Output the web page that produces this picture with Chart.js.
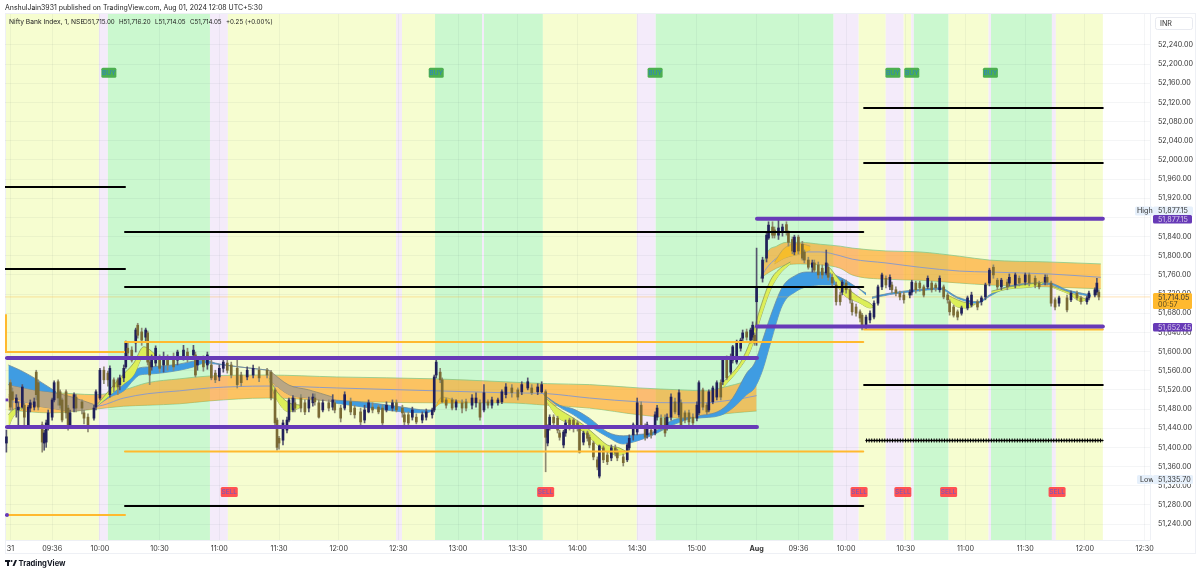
<!DOCTYPE html>
<html>
<head>
<meta charset="utf-8">
<style>
  html, body { margin: 0; padding: 0; background: #fff; }
  canvas { display: block; }
</style>
<script src="https://cdn.jsdelivr.net/npm/chart.js@4/dist/chart.umd.min.js"></script>
</head>
<body>
<canvas id="chart" width="1200" height="573"></canvas>
<script>
// every x below is minutes since 09:15 on Jul 31, with the closed market hours left out
const xTickMinutes = [0, 21, 45, 75, 105, 135, 165, 195, 225, 255, 285, 315, 345, 375, 396, 420, 450, 480, 510, 540, 570]
const xTickLabels = ['31', '09:36', '10:00', '10:30', '11:00', '11:30', '12:00', '12:30', '13:00', '13:30', '14:00', '14:30', '15:00', 'Aug', '09:36', '10:00', '10:30', '11:00', '11:30', '12:00', '12:30']
const yTickValues = [51240, 51280, 51320, 51360, 51400, 51440, 51480, 51520, 51560, 51600, 51640, 51680, 51720, 51760, 51800, 51840, 51880, 51920, 51960, 52000, 52040, 52080, 52120, 52160, 52200, 52240]

const candleMinute = [
  -2, 0, 1, 3, 4, 6, 7, 9, 10, 12,
  13, 14, 16, 17, 18, 19, 21, 22, 24, 25,
  26, 28, 29, 30, 32, 33, 36, 37, 39, 42,
  43, 45, 47, 49, 50, 52, 54, 55, 57, 58,
  59, 61, 63, 64, 66, 68, 69, 70, 71, 73,
  75, 77, 79, 82, 84, 87, 89, 92, 93, 94,
  97, 99, 101, 103, 105, 107, 109, 111, 114, 116,
  119, 122, 125, 129, 131, 133, 134, 135, 137, 139,
  140, 142, 143, 146, 148, 150, 152, 153, 155, 157,
  160, 162, 163, 166, 168, 171, 173, 176, 178, 180,
  182, 185, 187, 189, 192, 194, 197, 198, 200, 202,
  204, 207, 209, 212, 213, 214, 216, 217, 219, 222,
  224, 227, 229, 232, 234, 236, 238, 240, 242, 245,
  247, 249, 252, 255, 257, 260, 262, 265, 267, 269,
  270, 271, 273, 275, 276, 278, 279, 281, 283, 285,
  286, 288, 290, 291, 293, 295, 296, 298, 300, 302,
  304, 305, 308, 310, 311, 313, 315, 317, 319, 320,
  322, 324, 325, 327, 329, 330, 332, 334, 336, 337,
  339, 341, 343, 345, 346, 348, 350, 351, 353, 355,
  357, 358, 360, 362, 363, 365, 367, 368, 370, 372,
  373, 374, 375, 378, 380, 381, 383, 384, 386, 388,
  390, 391, 393, 394, 396, 398, 399, 401, 403, 404,
  406, 408, 410, 411, 413, 415, 417, 418, 420, 422,
  423, 425, 427, 428, 430, 432, 434, 436, 438, 440,
  442, 443, 445, 447, 449, 452, 453, 455, 457, 459,
  461, 463, 465, 467, 469, 471, 472, 474, 476, 478,
  481, 483, 486, 488, 490, 492, 494, 496, 498, 501,
  502, 505, 507, 510, 512, 515, 517, 520, 521, 523,
  525, 527, 531, 533, 536, 538, 541, 542, 545, 546, 547
]
const candleOpen = [
  51409, 51535, 51516, 51493, 51478, 51484, 51488, 51447, 51482, 51484,
  51557, 51535, 51447, 51409, 51411, 51442, 51463, 51499, 51537, 51516,
  51499, 51516, 51482, 51442, 51482, 51505, 51495, 51472, 51463, 51461,
  51484, 51503, 51561, 51555, 51510, 51541, 51541, 51531, 51545, 51568,
  51607, 51603, 51618, 51655, 51641, 51630, 51639, 51578, 51568, 51576,
  51589, 51572, 51587, 51589, 51582, 51589, 51599, 51593, 51593, 51572,
  51582, 51572, 51572, 51555, 51547, 51565, 51576, 51572, 51565, 51551,
  51547, 51551, 51561, 51561, 51557, 51520, 51457, 51419, 51415, 51436,
  51457, 51478, 51493, 51503, 51493, 51482, 51493, 51503, 51493, 51478,
  51493, 51484, 51493, 51482, 51482, 51495, 51482, 51474, 51457, 51474,
  51484, 51484, 51482, 51478, 51482, 51493, 51482, 51468, 51468, 51463,
  51463, 51457, 51463, 51468, 51478, 51551, 51557, 51541, 51499, 51499,
  51484, 51493, 51495, 51488, 51493, 51493, 51478, 51495, 51488, 51493,
  51495, 51510, 51524, 51520, 51516, 51524, 51524, 51516, 51516, 51516,
  51409, 51442, 51463, 51461, 51430, 51405, 51430, 51457, 51457, 51451,
  51440, 51411, 51430, 51421, 51409, 51374, 51340, 51399, 51384, 51378,
  51399, 51390, 51380, 51374, 51399, 51426, 51432, 51488, 51442, 51426,
  51436, 51430, 51463, 51461, 51461, 51442, 51463, 51495, 51468, 51493,
  51472, 51472, 51463, 51461, 51472, 51520, 51488, 51478, 51495, 51505,
  51535, 51537, 51587, 51557, 51582, 51578, 51607, 51628, 51641, 51624,
  51630, 51634, 51704, 51753, 51795, 51837, 51860, 51854, 51843, 51849,
  51865, 51847, 51834, 51808, 51839, 51824, 51808, 51791, 51776, 51785,
  51781, 51774, 51764, 51776, 51755, 51739, 51718, 51724, 51743, 51729,
  51701, 51693, 51683, 51676, 51651, 51666, 51672, 51701, 51735, 51753,
  51735, 51739, 51729, 51722, 51718, 51718, 51724, 51743, 51743, 51735,
  51735, 51743, 51739, 51729, 51735, 51718, 51704, 51693, 51683, 51680,
  51691, 51697, 51704, 51704, 51714, 51743, 51776, 51749, 51735, 51745,
  51743, 51739, 51753, 51745, 51760, 51753, 51743, 51745, 51755, 51743,
  51708, 51701, 51712, 51708, 51722, 51712, 51704, 51712, 51718, 51724, 51724
]
const candleClose = [
  51422, 51484, 51499, 51503, 51484, 51526, 51463, 51484, 51493, 51495,
  51510, 51484, 51411, 51430, 51451, 51472, 51499, 51535, 51503, 51488,
  51457, 51472, 51442, 51472, 51510, 51482, 51482, 51461, 51442, 51482,
  51516, 51561, 51541, 51541, 51565, 51526, 51526, 51545, 51565, 51618,
  51597, 51582, 51645, 51634, 51624, 51645, 51578, 51551, 51589, 51607,
  51565, 51589, 51572, 51568, 51599, 51603, 51589, 51603, 51551, 51582,
  51568, 51593, 51545, 51541, 51565, 51578, 51561, 51551, 51531, 51535,
  51561, 51565, 51545, 51551, 51503, 51451, 51400, 51409, 51451, 51457,
  51499, 51503, 51482, 51482, 51474, 51499, 51505, 51495, 51463, 51493,
  51482, 51499, 51478, 51461, 51510, 51474, 51468, 51453, 51478, 51493,
  51478, 51474, 51451, 51488, 51493, 51478, 51472, 51453, 51451, 51478,
  51453, 51468, 51474, 51478, 51547, 51578, 51541, 51495, 51488, 51482,
  51495, 51482, 51482, 51503, 51503, 51463, 51514, 51488, 51499, 51499,
  51516, 51526, 51514, 51505, 51531, 51537, 51514, 51526, 51531, 51421,
  51442, 51463, 51451, 51436, 51421, 51432, 51451, 51442, 51440, 51440,
  51390, 51430, 51419, 51405, 51380, 51359, 51403, 51374, 51370, 51399,
  51388, 51378, 51368, 51405, 51419, 51447, 51493, 51447, 51421, 51447,
  51426, 51468, 51482, 51442, 51430, 51463, 51505, 51474, 51514, 51447,
  51457, 51453, 51451, 51488, 51535, 51484, 51474, 51516, 51524, 51535,
  51505, 51582, 51545, 51589, 51610, 51620, 51624, 51639, 51630, 51645,
  51655, 51618, 51735, 51791, 51843, 51864, 51843, 51843, 51858, 51860,
  51850, 51828, 51810, 51839, 51810, 51795, 51791, 51776, 51785, 51770,
  51760, 51760, 51785, 51755, 51743, 51704, 51704, 51745, 51729, 51708,
  51683, 51680, 51670, 51651, 51672, 51680, 51701, 51735, 51760, 51739,
  51755, 51729, 51722, 51714, 51708, 51724, 51745, 51729, 51733, 51718,
  51753, 51729, 51733, 51753, 51714, 51708, 51683, 51676, 51672, 51691,
  51712, 51718, 51693, 51712, 51739, 51770, 51760, 51735, 51749, 51735,
  51755, 51760, 51743, 51760, 51743, 51739, 51735, 51755, 51745, 51701,
  51693, 51712, 51687, 51722, 51712, 51704, 51712, 51722, 51729, 51743, 51714
]
const candleHigh = [
  51436, 51541, 51524, 51510, 51495, 51531, 51493, 51488, 51499, 51503,
  51561, 51541, 51453, 51436, 51457, 51478, 51503, 51539, 51541, 51520,
  51503, 51520, 51488, 51478, 51514, 51510, 51499, 51478, 51470, 51488,
  51520, 51565, 51568, 51559, 51570, 51545, 51545, 51551, 51572, 51622,
  51620, 51610, 51649, 51659, 51649, 51649, 51643, 51582, 51593, 51612,
  51593, 51599, 51593, 51597, 51603, 51613, 51607, 51613, 51599, 51589,
  51591, 51599, 51582, 51561, 51572, 51587, 51582, 51578, 51589, 51557,
  51568, 51572, 51568, 51565, 51561, 51524, 51461, 51423, 51457, 51463,
  51503, 51508, 51503, 51510, 51499, 51505, 51512, 51512, 51499, 51499,
  51499, 51510, 51499, 51488, 51516, 51503, 51488, 51482, 51488, 51499,
  51493, 51488, 51488, 51495, 51499, 51499, 51488, 51474, 51474, 51484,
  51470, 51474, 51480, 51482, 51551, 51582, 51565, 51545, 51503, 51503,
  51499, 51499, 51501, 51510, 51514, 51499, 51531, 51499, 51505, 51503,
  51520, 51533, 51531, 51524, 51537, 51545, 51531, 51533, 51537, 51520,
  51447, 51468, 51468, 51465, 51436, 51436, 51457, 51461, 51461, 51455,
  51445, 51434, 51434, 51426, 51413, 51380, 51405, 51403, 51390, 51405,
  51405, 51396, 51386, 51409, 51426, 51451, 51503, 51495, 51449, 51453,
  51442, 51474, 51488, 51468, 51468, 51470, 51512, 51503, 51520, 51499,
  51476, 51478, 51470, 51495, 51539, 51524, 51493, 51520, 51528, 51539,
  51541, 51587, 51591, 51595, 51613, 51624, 51628, 51645, 51647, 51649,
  51662, 51639, 51816, 51797, 51847, 51871, 51871, 51860, 51877, 51866,
  51871, 51852, 51839, 51843, 51843, 51830, 51812, 51797, 51791, 51791,
  51787, 51781, 51812, 51783, 51762, 51745, 51724, 51749, 51749, 51735,
  51708, 51699, 51687, 51680, 51676, 51685, 51706, 51739, 51764, 51758,
  51760, 51745, 51735, 51726, 51724, 51729, 51749, 51747, 51747, 51739,
  51758, 51747, 51743, 51758, 51739, 51722, 51708, 51697, 51687, 51695,
  51716, 51724, 51708, 51716, 51743, 51774, 51781, 51753, 51753, 51751,
  51762, 51764, 51758, 51764, 51764, 51758, 51747, 51760, 51760, 51747,
  51712, 51716, 51718, 51726, 51726, 51716, 51716, 51726, 51733, 51753, 51729
]
const candleLow = [
  51390, 51478, 51478, 51463, 51440, 51482, 51442, 51445, 51474, 51478,
  51499, 51478, 51390, 51394, 51400, 51436, 51457, 51495, 51488, 51482,
  51453, 51461, 51436, 51440, 51474, 51474, 51470, 51449, 51432, 51457,
  51478, 51499, 51533, 51528, 51505, 51516, 51510, 51520, 51537, 51565,
  51591, 51578, 51599, 51628, 51613, 51620, 51572, 51531, 51561, 51570,
  51557, 51557, 51561, 51561, 51572, 51582, 51578, 51587, 51547, 51561,
  51559, 51563, 51541, 51535, 51539, 51557, 51555, 51545, 51524, 51528,
  51541, 51545, 51537, 51545, 51499, 51447, 51394, 51396, 51405, 51430,
  51453, 51474, 51474, 51474, 51468, 51474, 51486, 51488, 51461, 51474,
  51476, 51478, 51472, 51453, 51478, 51468, 51461, 51445, 51451, 51472,
  51472, 51470, 51447, 51474, 51476, 51474, 51463, 51447, 51440, 51457,
  51449, 51451, 51457, 51461, 51474, 51545, 51535, 51493, 51482, 51478,
  51478, 51472, 51476, 51480, 51484, 51457, 51474, 51482, 51482, 51488,
  51491, 51503, 51505, 51499, 51510, 51520, 51510, 51510, 51514, 51349,
  51403, 51436, 51442, 51430, 51415, 51399, 51423, 51436, 51432, 51434,
  51388, 51405, 51413, 51399, 51374, 51353, 51336, 51368, 51364, 51372,
  51382, 51372, 51361, 51370, 51394, 51415, 51426, 51440, 51415, 51419,
  51419, 51426, 51457, 51436, 51423, 51436, 51457, 51470, 51463, 51440,
  51451, 51447, 51445, 51455, 51468, 51478, 51468, 51474, 51491, 51499,
  51499, 51531, 51541, 51553, 51576, 51574, 51601, 51620, 51624, 51618,
  51624, 51613, 51613, 51745, 51787, 51834, 51837, 51837, 51834, 51841,
  51843, 51820, 51804, 51802, 51804, 51791, 51785, 51772, 51766, 51766,
  51753, 51753, 51760, 51749, 51737, 51697, 51697, 51718, 51722, 51701,
  51676, 51674, 51662, 51645, 51647, 51660, 51668, 51697, 51729, 51733,
  51729, 51722, 51716, 51708, 51701, 51712, 51718, 51722, 51726, 51714,
  51731, 51724, 51726, 51724, 51710, 51701, 51676, 51672, 51666, 51676,
  51687, 51693, 51687, 51697, 51708, 51737, 51753, 51729, 51729, 51729,
  51737, 51733, 51737, 51739, 51737, 51733, 51731, 51739, 51739, 51695,
  51687, 51695, 51683, 51704, 51708, 51699, 51699, 51708, 51714, 51718, 51708
]

// slow ribbon, one run per session
const slowMinute1 = [-1, 20, 43, 57, 69, 85, 100, 129, 164, 214, 248, 270, 291, 316, 337, 349, 359, 369, 375]
const slowTop1 = [51510, 51514, 51510, 51520, 51535, 51543, 51549, 51551, 51547, 51543, 51537, 51533, 51531, 51524, 51520, 51518, 51526, 51537, 51545]
const slowMid1 = [51495, 51493, 51486, 51503, 51512, 51518, 51524, 51528, 51524, 51518, 51514, 51512, 51503, 51495, 51493, 51493, 51497, 51503, 51508]
const slowBottom1 = [51478, 51472, 51480, 51486, 51488, 51491, 51497, 51503, 51497, 51493, 51493, 51488, 51482, 51468, 51461, 51463, 51470, 51474, 51476]
const slowMinute2 = [377, 380, 385, 390, 397, 407, 417, 423, 440, 457, 477, 492, 522, 548]
const slowTop2 = [51753, 51804, 51820, 51828, 51828, 51824, 51820, 51816, 51810, 51808, 51799, 51791, 51787, 51783]
const slowMid2 = [51753, 51774, 51795, 51808, 51808, 51808, 51800, 51793, 51785, 51776, 51768, 51766, 51762, 51755]
const slowBottom2 = [51753, 51762, 51774, 51781, 51783, 51781, 51774, 51760, 51751, 51749, 51743, 51739, 51735, 51731]

// fast ribbons, each run: minutes, upper edge, lower edge
const blueRuns = [
  [[-1, 5, 12, 20, 23], [51572, 51561, 51545, 51524, 51516], [51531, 51526, 51520, 51516, 51514]],
  [[44, 50, 57, 62, 65, 70, 85, 92, 98, 103, 115, 130], [51491, 51511, 51531, 51558, 51566, 51568, 51574, 51580, 51582, 51576, 51568, 51561], [51488, 51505, 51518, 51541, 51551, 51553, 51561, 51568, 51576, 51574, 51568, 51561]],
  [[162, 181, 197, 209, 213], [51499, 51493, 51484, 51478, 51478], [51493, 51482, 51474, 51472, 51478]],
  [[268, 276, 283, 291, 300, 308, 313, 323, 333, 342], [51510, 51488, 51480, 51461, 51432, 51424, 51426, 51432, 51457, 51463], [51510, 51484, 51468, 51445, 51422, 51407, 51411, 51426, 51447, 51461]],
  [[345, 357, 363, 370, 374, 378, 382, 388, 395, 400, 408, 417, 425, 430], [51465, 51478, 51503, 51555, 51576, 51624, 51674, 51735, 51760, 51766, 51766, 51755, 51735, 51722], [51461, 51467, 51482, 51510, 51524, 51561, 51618, 51697, 51726, 51735, 51739, 51739, 51735, 51718]],
  [[433, 442, 455, 467, 476, 486, 492, 499, 516, 522, 531, 543], [51714, 51722, 51729, 51733, 51714, 51704, 51718, 51733, 51743, 51743, 51729, 51718], [51711, 51719, 51726, 51730, 51711, 51701, 51715, 51730, 51740, 51740, 51726, 51715]]
]
const taupeRuns = [
  [[-1, 5, 12, 20, 31, 43], [51531, 51526, 51520, 51516, 51505, 51488], [51505, 51499, 51488, 51482, 51476, 51482]],
  [[130, 140, 150, 162], [51561, 51530, 51520, 51505], [51541, 51510, 51503, 51495]]
]
const yellowRuns = [
  [[-1, 1, 5, 7], [51468, 51478, 51482, 51482], [51441, 51461, 51478, 51482]],
  [[44, 55, 62, 67, 72, 74], [51491, 51545, 51576, 51610, 51597, 51589], [51488, 51526, 51551, 51589, 51589, 51589]],
  [[130, 134, 140, 146], [51545, 51516, 51493, 51488], [51541, 51499, 51474, 51484]],
  [[269, 275, 283, 288, 295, 300, 306, 310], [51503, 51482, 51461, 51447, 51422, 51405, 51399, 51390], [51499, 51463, 51447, 51432, 51405, 51390, 51384, 51388]],
  [[358, 367, 372, 377, 382, 387, 392], [51535, 51578, 51624, 51693, 51749, 51774, 51787], [51524, 51568, 51603, 51670, 51729, 51764, 51783]],
  [[412, 418, 427, 432, 434], [51774, 51743, 51712, 51701, 51693], [51766, 51722, 51701, 51691, 51693]],
  [[471, 476, 481, 485], [51718, 51708, 51701, 51699], [51712, 51693, 51691, 51699]],
  [[493, 502, 516, 519], [51726, 51735, 51743, 51745], [51722, 51731, 51737, 51743]],
  [[523, 532, 538, 541], [51737, 51724, 51714, 51708], [51735, 51720, 51705, 51708]]
]
const goldRuns = [
  [[213, 217, 223, 228], [51482, 51505, 51499, 51495], [51482, 51493, 51493, 51493]],
  [[384, 389, 397, 402], [51787, 51816, 51825, 51820], [51783, 51795, 51804, 51812]]
]

// levels: start minute, end minute, price
const blackLevels = [
  [-2.7, 57.6, 51943.5], [-2.7, 57.6, 51772.4],
  [57.6, 428.6, 51849.6], [57.6, 428.6, 51734.8], [57.6, 428.6, 51277.6],
  [429, 549, 52108.5], [429, 549, 51993.7], [429, 549, 51530.2]
]
const dottedLevel = [430, 549, 51414.3]
const purpleLevels = [
  [-1.7, 375.2, 51586.6], [-1.7, 375.2, 51442.5],
  [375.2, 549, 51877.15], [375.2, 549, 51652.45]
]
const orangeLevels = [
  [57.6, 428.6, 51620], [57.6, 428.6, 51391.4],
  [-1.7, 57.6, 51259], [429, 549, 51646]
]
const orangeStepMinute = [-2.2, -2.2, 57.6]
const orangeStepPrice = [51678, 51599, 51599]

const buyMinutes = [49.5, 214, 324, 443.5, 453, 492.5]
const buyPrice = 52182
const sellMinutes = [110, 269, 426.5, 448.5, 471.5, 526]
const sellPrice = 51307

const lastPrice = 51714.05

// session colouring, edges in minutes
const bandEdges = [-2.7, 44.5, 49, 100.3, 109.3, 193.8, 196.8, 213.4, 237, 238, 267.6, 314.8, 324.3, 413.7, 426.3, 439.9, 448.9, 452.7, 454, 471.5, 491.6, 492.8, 523.4, 525.4, 549]
const bandKinds = ['y', 'l', 'g', 'l', 'y', 'l', 'y', 'g', 'l', 'g', 'y', 'l', 'g', 'l', 'y', 'l', 'y', 'l', 'g', 'y', 'l', 'g', 'l', 'y']
const bandColors = { y: '#f6fdd0', g: '#cbf8cf', l: '#f4ebfa' }

const FONT = 'Inter, "Liberation Sans", sans-serif'
const X_MIN = -2.7
const X_MAX = 572.7

const points = (xs, ys) => xs.map((x, i) => ({ x, y: ys[i] }))

function ribbon(xs, upper, lower, fillColor, edgeColor, order) {
  const common = {
    type: 'line',
    pointRadius: 0,
    borderWidth: 0.8,
    borderColor: edgeColor,
    cubicInterpolationMode: 'monotone',
    order
  }
  return [
    { ...common, data: points(xs, upper), fill: '+1', backgroundColor: fillColor },
    { ...common, data: points(xs, lower), fill: false }
  ]
}

function levelLine(level, color, width, order) {
  return {
    type: 'line',
    data: [{ x: level[0], y: level[2] }, { x: level[1], y: level[2] }],
    borderColor: color,
    borderWidth: width,
    borderCapStyle: 'round',
    pointRadius: 0,
    fill: false,
    order
  }
}

const datasets = [
  ...ribbon(slowMinute1, slowTop1, slowBottom1, 'rgba(255, 160, 30, 0.62)', '#86c98a', 90),
  ...ribbon(slowMinute2, slowTop2, slowBottom2, 'rgba(255, 160, 30, 0.62)', '#86c98a', 90),
  { type: 'line', data: points(slowMinute1, slowMid1), borderColor: '#8f9cc4', borderWidth: 1, pointRadius: 0, fill: false, cubicInterpolationMode: 'monotone', order: 85 },
  { type: 'line', data: points(slowMinute2, slowMid2), borderColor: '#8f9cc4', borderWidth: 1, pointRadius: 0, fill: false, cubicInterpolationMode: 'monotone', order: 85 },
  ...taupeRuns.flatMap(r => ribbon(r[0], r[1], r[2], '#b9a684', '#8d8a72', 80)),
  ...blueRuns.flatMap(r => ribbon(r[0], r[1], r[2], '#3f9ce2', '#6f8c9c', 78)),
  ...yellowRuns.flatMap(r => ribbon(r[0], r[1], r[2], '#dcef58', '#8d9a58', 76)),
  ...goldRuns.flatMap(r => ribbon(r[0], r[1], r[2], '#f6bd2c', '#b8a35a', 74)),
  {
    type: 'line',
    data: [{ x: X_MIN, y: lastPrice }, { x: X_MAX, y: lastPrice }],
    borderColor: 'rgba(255, 176, 46, 0.35)',
    borderWidth: 1,
    pointRadius: 0,
    fill: false,
    order: 70
  },
  {
    type: 'bar',
    data: candleMinute.map((x, i) => ({ x, y: [candleLow[i], candleHigh[i]] })),
    backgroundColor: candleOpen.map((o, i) => (candleClose[i] >= o ? '#55556e' : '#8d8a72')),
    barThickness: 1,
    grouped: false,
    order: 20
  },
  {
    type: 'bar',
    data: candleMinute.map((x, i) => ({ x, y: [candleOpen[i], candleClose[i]] })),
    backgroundColor: candleOpen.map((o, i) => (candleClose[i] >= o ? '#20205a' : '#7a6a34')),
    barThickness: 2,
    grouped: false,
    order: 10
  },
  ...orangeLevels.map(l => levelLine(l, '#ffb92e', 2, 6)),
  {
    type: 'line',
    data: points(orangeStepMinute, orangeStepPrice),
    borderColor: '#ffb92e',
    borderWidth: 2,
    pointRadius: 0,
    fill: false,
    order: 6
  },
  ...purpleLevels.map(l => levelLine(l, '#673ab7', 4, 4)),
  ...blackLevels.map(l => levelLine(l, '#000000', 2, 3)),
  levelLine(dottedLevel, '#000000', 1.6, 3),
  { ...levelLine(dottedLevel, '#000000', 4, 3), borderDash: [1, 1.6], borderCapStyle: 'butt' },
  {
    type: 'line',
    data: [{ x: -1.7, y: 51499 }],
    pointStyle: 'rect',
    pointRadius: 2,
    pointBackgroundColor: '#673ab7',
    pointBorderWidth: 0,
    order: 3
  },
  {
    type: 'line',
    data: [{ x: -1.7, y: 51259 }],
    pointRadius: 2,
    pointBackgroundColor: '#673ab7',
    pointBorderWidth: 0,
    order: 3
  }
]

const backdrop = {
  id: 'backdrop',
  beforeDraw(chart) {
    const { ctx, chartArea, scales } = chart
    ctx.save()
    ctx.fillStyle = '#ffffff'
    ctx.fillRect(0, 0, chart.width, chart.height)
    bandKinds.forEach((kind, i) => {
      const left = scales.x.getPixelForValue(bandEdges[i])
      const right = scales.x.getPixelForValue(bandEdges[i + 1])
      ctx.fillStyle = bandColors[kind]
      ctx.fillRect(left, chartArea.top, right - left, chartArea.bottom - chartArea.top)
    })
    ctx.strokeStyle = '#eef0f5'
    ctx.lineWidth = 1
    ctx.strokeRect(chartArea.left + 0.5, chartArea.top - 0.5, 1195 - chartArea.left, 554 - chartArea.top)
    ctx.beginPath()
    ctx.moveTo(chartArea.left, chartArea.bottom + 0.5)
    ctx.lineTo(chartArea.right, chartArea.bottom + 0.5)
    ctx.moveTo(chartArea.right + 0.5, chartArea.top)
    ctx.lineTo(chartArea.right + 0.5, chartArea.bottom)
    ctx.stroke()
    ctx.restore()
  }
}

function tag(ctx, x, y, w, h, fill, radius) {
  ctx.fillStyle = fill
  ctx.beginPath()
  ctx.roundRect(x, y, w, h, radius)
  ctx.fill()
}

function label(ctx, text, x, y, color, font) {
  ctx.fillStyle = color
  ctx.font = font || `7.2px ${FONT}`
  ctx.fillText(text, x, y)
}

const overlays = {
  id: 'overlays',
  afterDraw(chart) {
    const { ctx, scales } = chart
    const legendFont = `6.2px ${FONT}`
    ctx.save()
    ctx.textBaseline = 'middle'
    ctx.textAlign = 'center'

    buyMinutes.forEach(m => {
      const x = scales.x.getPixelForValue(m)
      const y = scales.y.getPixelForValue(buyPrice)
      tag(ctx, x - 7.5, y - 5, 15, 10, '#4caf50', 1.5)
      label(ctx, 'BUY', x, y + 0.5, '#2b7fc9', `6.6px ${FONT}`)
    })
    sellMinutes.forEach(m => {
      const x = scales.x.getPixelForValue(m)
      const y = scales.y.getPixelForValue(sellPrice)
      tag(ctx, x - 8.5, y - 5, 17, 10, '#ff5252', 1.5)
      label(ctx, 'SELL', x, y + 0.5, '#6a55c8', `6.6px ${FONT}`)
    })

    ctx.textAlign = 'left'
    label(ctx, 'AnshulJain3931 published on TradingView.com, Aug 01, 2024 12:08 UTC+5:30', 5, 8, '#222222', `6.95px ${FONT}`)
    label(ctx, 'Nifty Bank Index, 1, NSE', 9, 22, '#222222', `6.7px ${FONT}`)
    label(ctx, 'O51,715.00', 83, 22, '#222222', legendFont)
    label(ctx, 'H51,716.20', 119, 22, '#222222', legendFont)
    label(ctx, 'L51,714.05', 155, 22, '#222222', legendFont)
    label(ctx, 'C51,714.05', 190, 22, '#222222', legendFont)
    label(ctx, '+0.25 (+0.00%)', 226, 22, '#222222', legendFont)

    // price scale tags
    ctx.strokeStyle = '#e8eaf0'
    ctx.fillStyle = '#ffffff'
    ctx.beginPath()
    ctx.roundRect(1155.5, 17.5, 37, 12, 2)
    ctx.fill()
    ctx.stroke()
    label(ctx, 'INR', 1160, 23.5, '#333333')

    tag(ctx, 1135, 206.5, 18, 9, '#e6f0fb', 1.5)
    label(ctx, 'High', 1137, 211, '#333333')
    tag(ctx, 1153, 206.5, 40, 9, '#e6f0fb', 1.5)
    label(ctx, '51,877.15', 1158, 211, '#333333')
    tag(ctx, 1153, 215, 39, 8.5, '#673ab7', 1.5)
    label(ctx, '51,877.15', 1158, 219.5, '#d8cdea')

    tag(ctx, 1153, 293, 39, 16, '#ffb92e', 1.5)
    label(ctx, '51,714.05', 1158, 297.5, '#333333')
    label(ctx, '00:57', 1158, 304.5, '#5a4a20')
    tag(ctx, 1153, 323, 39, 8.5, '#673ab7', 1.5)
    label(ctx, '51,652.45', 1158, 327.5, '#d8cdea')

    tag(ctx, 1137, 475, 16, 9, '#e6f0fb', 1.5)
    label(ctx, 'Low', 1140, 479.5, '#333333')
    tag(ctx, 1153, 475, 40, 9, '#e6f0fb', 1.5)
    label(ctx, '51,335.70', 1158, 479.5, '#333333')

    // logo and wordmark
    ctx.fillStyle = '#131722'
    ctx.fillRect(5, 560, 5, 2)
    ctx.fillRect(7, 560, 2, 6)
    ctx.beginPath()
    ctx.arc(11.5, 561, 1, 0, Math.PI * 2)
    ctx.fill()
    ctx.beginPath()
    ctx.moveTo(12.5, 566)
    ctx.lineTo(15, 560)
    ctx.lineTo(17, 560)
    ctx.lineTo(14.5, 566)
    ctx.fill()
    label(ctx, 'TradingView', 18.5, 563.5, '#131722', `bold 7.6px ${FONT}`)
    ctx.restore()
  }
}

new Chart(document.getElementById('chart'), {
  type: 'bar',
  data: { datasets },
  plugins: [backdrop, overlays],
  options: {
    responsive: false,
    animation: false,
    devicePixelRatio: 1,
    layout: { padding: { left: 5, right: 5, top: 14, bottom: 19 } },
    plugins: { legend: { display: false }, tooltip: { enabled: false } },
    scales: {
      x: {
        type: 'linear',
        min: X_MIN,
        max: X_MAX,
        offset: false,
        grid: { offset: false, color: 'rgba(40, 60, 80, 0.05)', drawTicks: false },
        border: { display: false },
        afterBuildTicks(axis) {
          axis.ticks = xTickMinutes.map(value => ({ value }))
        },
        afterFit(axis) {
          axis.height = 14
        },
        ticks: {
          autoSkip: false,
          maxRotation: 0,
          padding: 5,
          color: '#333333',
          font: ctx => ({ family: FONT, size: 7.2, weight: ctx.index === 13 ? 'bold' : 'normal' }),
          callback: (value, i) => xTickLabels[i]
        }
      },
      y: {
        type: 'linear',
        position: 'right',
        min: 51206.6,
        max: 52304.7,
        grid: { color: 'rgba(40, 60, 80, 0.05)', drawTicks: false },
        border: { display: false },
        afterBuildTicks(axis) {
          axis.ticks = yTickValues.map(value => ({ value }))
        },
        afterFit(axis) {
          axis.width = 45
        },
        ticks: {
          autoSkip: false,
          padding: 8,
          color: '#333333',
          font: { family: FONT, size: 7.2 },
          callback: value => value.toLocaleString('en-US', { minimumFractionDigits: 2 })
        }
      }
    }
  }
})
</script>
</body>
</html>
